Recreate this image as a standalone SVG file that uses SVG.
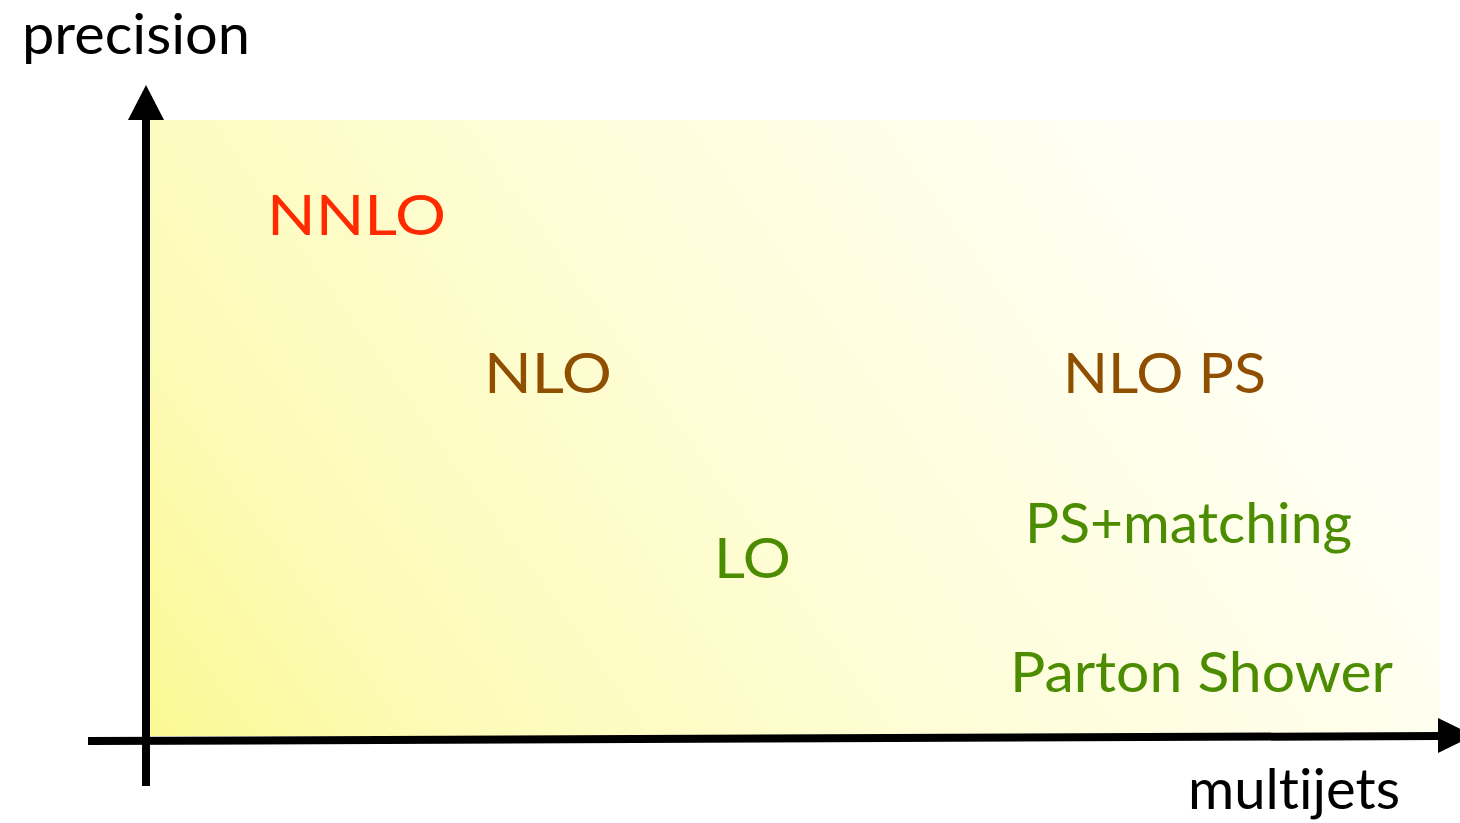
<svg xmlns="http://www.w3.org/2000/svg" width="1460" height="823" viewBox="0 0 1460 823">
  <defs>
    <linearGradient id="bg" gradientUnits="userSpaceOnUse" x1="150" y1="736" x2="1100" y2="60">
      <stop offset="0" stop-color="#fbf994"/>
      <stop offset="0.2" stop-color="#fcfbb6"/>
      <stop offset="0.55" stop-color="#fefdd6"/>
      <stop offset="1" stop-color="#fffff6"/>
    </linearGradient>
  </defs>
  <style>
    text { font-family: "Lato", "Open Sans", "Liberation Sans", sans-serif; font-size: 57px; font-variant-ligatures: none; }
    .axis { stroke: #000; stroke-width: 8; fill: none; }
    .head { fill: #000; }
    .red { fill: #ff2a00; }
    .brown { fill: #8f4e00; }
    .green { fill: #4c8c00; }
    .black { fill: #000; }
  </style>
  <rect id="plane" x="150" y="120" width="1290" height="616" fill="url(#bg)"/>
  <g id="connectors">
    <line class="axis" x1="146" y1="786" x2="146" y2="118"/>
    <polygon class="head" points="128,120 164,120 146,85"/>
    <line class="axis" x1="88" y1="741" x2="1440" y2="736"/>
    <polygon class="head" points="1438,718 1438,753 1474,735.5"/>
  </g>
  <g id="label-precision"><text class="black" x="22" y="54" textLength="228" lengthAdjust="spacingAndGlyphs">precision</text></g>
  <g id="label-multijets"><text class="black" x="1188" y="809" textLength="212" lengthAdjust="spacingAndGlyphs">multijets</text></g>
  <g id="node-nnlo"><text class="red" x="267" y="235" textLength="179" lengthAdjust="spacingAndGlyphs">NNLO</text></g>
  <g id="node-nlo"><text class="brown" x="484" y="393" textLength="128" lengthAdjust="spacingAndGlyphs">NLO</text></g>
  <g id="node-nlops"><text class="brown" x="1063" y="393" textLength="203" lengthAdjust="spacingAndGlyphs">NLO PS</text></g>
  <g id="node-lo"><text class="green" x="714" y="578" textLength="77" lengthAdjust="spacingAndGlyphs">LO</text></g>
  <g id="node-psmatching"><text class="green" x="1025" y="543" textLength="327" lengthAdjust="spacingAndGlyphs">PS+matching</text></g>
  <g id="node-partonshower"><text class="green" x="1010" y="692" textLength="383" lengthAdjust="spacingAndGlyphs">Parton Shower</text></g>
</svg>
